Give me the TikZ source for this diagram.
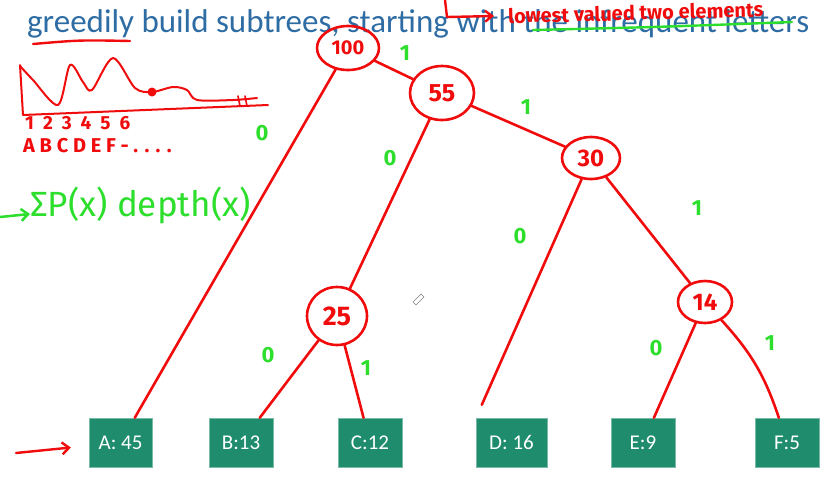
\documentclass[tikz,border=0pt]{standalone}
\usepackage{fontspec}
\setmainfont{Carlito}
\newfontfamily\handfont{Fira Sans}
\usetikzlibrary{shapes.geometric,arrows.meta}

\definecolor{titleblue}{RGB}{46,108,164}
\definecolor{leafgreen}{RGB}{31,141,109}
\definecolor{inkred}{RGB}{240,12,12}
\definecolor{inkgreen}{RGB}{45,222,45}

\begin{document}
\begin{tikzpicture}[x=1pt,y=-1pt,
    leaf/.style={draw=leafgreen!60!white, fill=leafgreen, text=white, minimum width=64pt,
      minimum height=49pt, inner sep=0pt, font=\fontsize{21}{21}\selectfont},
    weight/.style={ellipse, draw=inkred, line width=2.6pt, text=inkred, inner sep=0pt,
      font=\handfont\bfseries\fontsize{20}{20}\selectfont},
    branch/.style={inkred, line width=2.6pt, line cap=round},
    ink/.style={inkred, line width=2.4pt, line cap=round, line join=round},
    bit/.style={text=inkgreen, font=\handfont\bfseries\fontsize{22}{22}\selectfont}]

    \useasboundingbox (0,0) rectangle (831,499);

    % --- Title ---
    \node[anchor=base west, inner sep=0pt, text=titleblue, font=\fontsize{33}{33}\selectfont]
      (title) at (27,32) {greedily build subtrees, starting with the infrequent letters};
    \draw[ink] (33,44) .. controls (80,40) .. (130,41);
    \draw[inkgreen, line width=2.4pt, line cap=round] (533,30) .. controls (660,27) .. (792,22);

    % --- Correction note ---
    \draw[ink, -{Straight Barb[length=7pt,width=11pt]}] (445,0) -- (447,17) -- (494,16);
    \node[anchor=west, rotate=1.5, inner sep=0pt, text=inkred, font=\handfont\bfseries\fontsize{20}{20}\selectfont]
      (note) at (508,16) {lowest valued two elements};

    % --- Frequency sketch ---
    \draw[ink, line width=2pt] (20,65) -- (23,115) -- (268,105);
    \draw[ink, line width=2pt] plot[smooth] coordinates {(20,66) (33,80) (58,105) (70,65)
      (83,82) (92,90) (113,58) (135,88) (152,92) (173,87) (187,90) (197,100) (233,100) (257,98)};
    \fill[inkred] (152,92) circle (4.5pt);
    \draw[ink, line width=1.6pt] (238,96) -- (240,106) (245,96) -- (247,106);
    \node[anchor=west, inner sep=0pt, text=inkred, font=\handfont\bfseries\fontsize{19}{19}\selectfont]
      (ranks) at (25,123) {1\hspace{9pt}2\hspace{9pt}3\hspace{9pt}4\hspace{9pt}5\hspace{9pt}6};
    \node[anchor=west, inner sep=0pt, text=inkred, font=\handfont\bfseries\fontsize{20}{20}\selectfont]
      (letters) at (23,146) {A B C D E F - . . . .};

    % --- Expected depth ---
    \draw[inkgreen, line width=2.5pt, line cap=round, -{Straight Barb[length=7pt,width=12pt]}] (0,217) -- (30,214);
    \node[anchor=west, inner sep=0pt, text=inkgreen, font=\handfont\fontsize{35}{35}\selectfont] (cost) at (30,205) {ΣP(x) depth(x)};

    % --- Leaves ---
    \node[leaf, minimum width=63pt] (A) at (120.5,442.5) {A: 45};
    \node[leaf] (B) at (241,442.5) {B:13};
    \node[leaf] (C) at (370,442.5) {C:12};
    \node[leaf, minimum width=71pt] (D) at (511.5,442.5) {D: 16};
    \node[leaf] (E) at (643,442.5) {E:9};
    \node[leaf] (F) at (787,442.5) {F:5};

    % --- Merged subtrees ---
    \node[weight, minimum width=62pt, minimum height=44pt] (n100) at (348,48) {100};
    \node[weight, minimum width=64pt, minimum height=54pt, font=\handfont\bfseries\fontsize{25}{25}\selectfont] (n55) at (442,93) {55};
    \node[weight, minimum width=58pt, minimum height=42pt, font=\handfont\bfseries\fontsize{24}{24}\selectfont] (n30) at (591,158) {30};
    \node[weight, minimum width=60pt, minimum height=58pt, font=\handfont\bfseries\fontsize{27}{27}\selectfont] (n25) at (337,316) {25};
    \node[weight, minimum width=54pt, minimum height=42pt, font=\handfont\bfseries\fontsize{24}{24}\selectfont] (n14) at (705,302) {14};

    % --- Branches ---
    \draw[branch] (n100) -- (A);
    \draw[branch] (n100) -- (n55);
    \draw[branch] (n55) -- (n25);
    \draw[branch] (n55) -- (n30);
    \draw[branch] (n30) -- ([xshift=6pt,yshift=13pt]D.north west);
    \draw[branch] (n30) -- (n14);
    \draw[branch] (n25) -- (B);
    \draw[branch] (n25) -- (C);
    \draw[branch] (n14) -- (E);
    \draw[branch] (n14) to[bend left=12] (F);

    % --- Bit labels ---
    \node[bit] (b1) at (262,133) {0};
    \node[bit] (b2) at (405,53) {1};
    \node[bit] (b3) at (390,158) {0};
    \node[bit] (b4) at (526,107) {1};
    \node[bit] (b5) at (520,236) {0};
    \node[bit] (b6) at (697,208) {1};
    \node[bit] (b7) at (268,355) {0};
    \node[bit] (b8) at (366,368) {1};
    \node[bit] (b9) at (656,348) {0};
    \node[bit] (b10) at (770,343) {1};

    % --- Pointer and cursor ---
    \coordinate (pointer) at (16,453);
    \draw[ink, shorten >=18pt, -{Straight Barb[length=7pt,width=12pt]}] (pointer) -- (A);
    \draw[gray, line width=0.6pt] (413,302) -- (421,294) -- (424,297) -- (416,305) -- cycle;

\end{tikzpicture}
\end{document}
